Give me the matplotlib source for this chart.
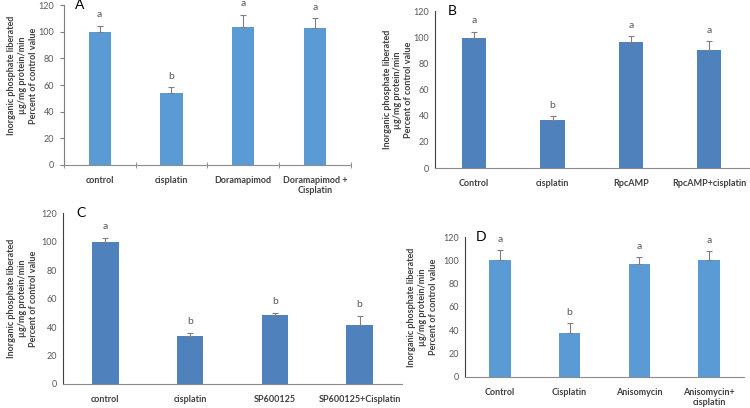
import matplotlib.pyplot as plt

plt.rcParams['font.family'] = ['Lato', 'DejaVu Sans']

# panel data (mean, upper error, significance letter)
cats_a = ["control", "cisplatin", "Doramapimod", "Doramapimod +\nCisplatin"]
vals_a = [100, 54.3, 104, 102.8]
err_a = [4.5, 4, 8.8, 7.4]
sig_a = ["a", "b", "a", "a"]

cats_b = ["Control", "cisplatin", "RpcAMP", "RpcAMP+cisplatin"]
vals_b = [99.8, 36.6, 96.7, 90.8]
err_b = [4.8, 3.1, 4.1, 6.2]
sig_b = ["a", "b", "a", "a"]

cats_c = ["control", "cisplatin", "SP600125", "SP600125+Cisplatin"]
vals_c = [100, 34, 48.3, 41.2]
err_c = [2.5, 1.6, 1.6, 6.6]
sig_c = ["a", "b", "b", "b"]

cats_d = ["Control", "Cisplatin", "Anisomycin", "Anisomycin+\ncisplatin"]
vals_d = [100, 37.3, 96.5, 100]
err_d = [8.8, 8.9, 6.5, 7.9]
sig_d = ["a", "b", "a", "a"]

YLABEL = "Inorganic phosphate liberated\n\u00b5g/mg protein/min\nPercent of control value"
LIGHT = "#5b9bd5"
DARK = "#4f81bd"

fig = plt.figure(figsize=(7.5, 4.08), dpi=100)

panels = [
    # tag, rect, cats, vals, errs, sig, color, xticks, ylabel x, ylabel y
    ("A", [0.085, 0.596, 0.383, 0.391], cats_a, vals_a, err_a, sig_a, LIGHT, True, -0.09, 0.56),
    ("B", [0.580, 0.588, 0.418, 0.384], cats_b, vals_b, err_b, sig_b, DARK, False, -0.07, 0.5),
    ("C", [0.084, 0.059, 0.452, 0.418], cats_c, vals_c, err_c, sig_c, DARK, False, -0.075, 0.5),
    ("D", [0.620, 0.077, 0.372, 0.342], cats_d, vals_d, err_d, sig_d, LIGHT, False, -0.097, 0.5),
]

for tag, rect, cats, vals, errs, sig, color, xt, ylx, yly in panels:
    ax = fig.add_axes(rect)
    x = list(range(len(cats)))
    ax.bar(x, vals, width=0.31, color=color, zorder=2)
    ax.errorbar(x, vals, yerr=[[0] * len(vals), errs], fmt='none',
                ecolor="#7f7f7f", elinewidth=0.8, capsize=2, capthick=0.8, zorder=3)
    for xi, v, e, s in zip(x, vals, errs, sig):
        ax.text(xi, v + e + 5, s, ha='center', va='bottom', fontsize=7.5, color="#595959")

    ax.set_xlim(-0.5, len(cats) - 0.5)
    ax.set_ylim(0, 120)
    ax.set_yticks(range(0, 121, 20))
    ax.set_xticks(x)
    ax.set_xticklabels(cats, fontsize=6.5, color="#404040", fontweight='bold')
    ax.tick_params(axis='x', length=0, pad=8)
    ax.tick_params(axis='y', labelsize=6.5, labelcolor="#595959", length=3 if xt else 0,
                   color="#7f7f7f", pad=4)
    if xt:
        # category boundary tick marks on the x axis
        ax.set_xticks([i - 0.5 for i in range(len(cats) + 1)], minor=True)
        ax.tick_params(axis='x', which='minor', length=4, direction='inout', color="#7f7f7f")

    for sp in ["top", "right"]:
        ax.spines[sp].set_visible(False)
    ax.spines["bottom"].set_color("#8c8c8c")
    ax.spines["left"].set_color("#7f7f7f" if xt else "#404040")
    ax.spines["left"].set_linewidth(0.8)

    ax.set_ylabel(YLABEL, fontsize=6.5, color="#404040", fontweight='bold', linespacing=1.25)
    ax.yaxis.set_label_coords(ylx, yly)

    ax.text(0.04, 1.0, tag, transform=ax.transAxes, fontsize=10, va='center', ha='left', color="#000000")

fig.savefig("out.png", dpi=100)
